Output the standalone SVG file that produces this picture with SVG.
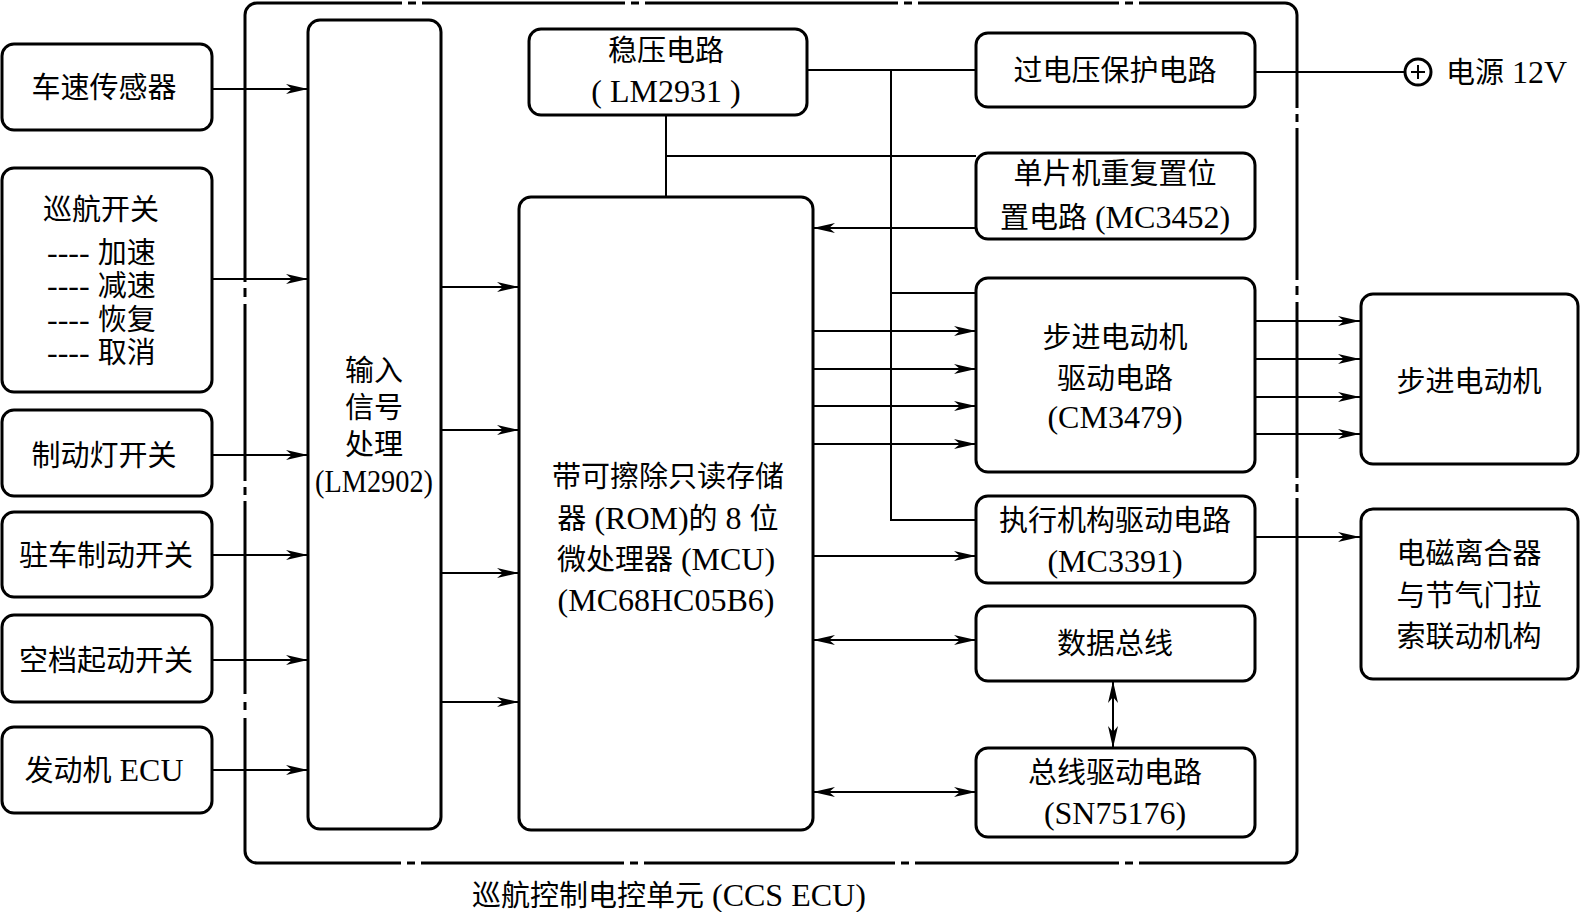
<svg xmlns="http://www.w3.org/2000/svg" width="1581" height="912" viewBox="0 0 1581 912">
<style>
.box{fill:#fff;stroke:#000;stroke-width:3}
.border{fill:none;stroke:#000;stroke-width:3}
.ln{fill:none;stroke:#000;stroke-width:2}
.gw{stroke:#fff;stroke-width:7}
.gd{stroke:#000;stroke-width:3}
text{font-family:"Liberation Serif","Noto Sans CJK SC",serif;font-size:29px;fill:#000;text-anchor:middle}
.st{text-anchor:start}
.lt{font-size:32px}
</style>
<defs>
<marker id="ah" markerWidth="24" markerHeight="12" refX="22" refY="6" orient="auto-start-reverse" markerUnits="userSpaceOnUse" viewBox="0 0 24 12">
<path d="M0,1 L22,6 L0,11 L6,6 Z" fill="#000"/>
</marker>
</defs>
<rect fill="#fff" x="0" y="0" width="1581" height="912"/>

<g id="ecu-border">
<rect class="border" x="245" y="3" width="1052" height="860" rx="12"/>
<g>
<line class="gw" x1="402" y1="3" x2="422" y2="3"/><line class="gd" x1="408" y1="3" x2="416" y2="3"/>
<line class="gw" x1="625" y1="3" x2="645" y2="3"/><line class="gd" x1="631" y1="3" x2="639" y2="3"/>
<line class="gw" x1="898" y1="3" x2="918" y2="3"/><line class="gd" x1="904" y1="3" x2="912" y2="3"/>
<line class="gw" x1="1119" y1="3" x2="1139" y2="3"/><line class="gd" x1="1125" y1="3" x2="1133" y2="3"/>
<line class="gw" x1="401" y1="863" x2="421" y2="863"/><line class="gd" x1="407" y1="863" x2="415" y2="863"/>
<line class="gw" x1="624" y1="863" x2="644" y2="863"/><line class="gd" x1="630" y1="863" x2="638" y2="863"/>
<line class="gw" x1="895" y1="863" x2="915" y2="863"/><line class="gd" x1="901" y1="863" x2="909" y2="863"/>
<line class="gw" x1="1119" y1="863" x2="1139" y2="863"/><line class="gd" x1="1125" y1="863" x2="1133" y2="863"/>
<line class="gw" x1="245" y1="282" x2="245" y2="304"/><line class="gd" x1="245" y1="288" x2="245" y2="297"/>
<line class="gw" x1="245" y1="481" x2="245" y2="501"/><line class="gd" x1="245" y1="487" x2="245" y2="495"/>
<line class="gw" x1="245" y1="694" x2="245" y2="718"/><line class="gd" x1="245" y1="702" x2="245" y2="710"/>
<line class="gw" x1="1297" y1="108" x2="1297" y2="128"/><line class="gd" x1="1297" y1="114" x2="1297" y2="122"/>
<line class="gw" x1="1297" y1="280" x2="1297" y2="302"/><line class="gd" x1="1297" y1="286" x2="1297" y2="295"/>
<line class="gw" x1="1297" y1="478" x2="1297" y2="498"/><line class="gd" x1="1297" y1="484" x2="1297" y2="492"/>
</g>
<text class="st" x="472" y="906">巡航控制电控单元<tspan class="lt"> (CCS ECU)</tspan></text>
</g>

<g id="connectors">
<line class="ln" x1="212" y1="89" x2="308" y2="89" marker-end="url(#ah)"/>
<line class="ln" x1="212" y1="279" x2="308" y2="279" marker-end="url(#ah)"/>
<line class="ln" x1="212" y1="455" x2="308" y2="455" marker-end="url(#ah)"/>
<line class="ln" x1="212" y1="555" x2="308" y2="555" marker-end="url(#ah)"/>
<line class="ln" x1="212" y1="660" x2="308" y2="660" marker-end="url(#ah)"/>
<line class="ln" x1="212" y1="770" x2="308" y2="770" marker-end="url(#ah)"/>

<line class="ln" x1="441" y1="287" x2="519" y2="287" marker-end="url(#ah)"/>
<line class="ln" x1="441" y1="430" x2="519" y2="430" marker-end="url(#ah)"/>
<line class="ln" x1="441" y1="573" x2="519" y2="573" marker-end="url(#ah)"/>
<line class="ln" x1="441" y1="702" x2="519" y2="702" marker-end="url(#ah)"/>

<polyline class="ln" points="666,115 666,197"/>
<line class="ln" x1="666" y1="156" x2="976" y2="156"/>
<line class="ln" x1="807" y1="70" x2="976" y2="70"/>
<polyline class="ln" points="891,70 891,520 976,520"/>
<line class="ln" x1="891" y1="293" x2="976" y2="293"/>
<line class="ln" x1="976" y1="228" x2="813" y2="228" marker-end="url(#ah)"/>

<line class="ln" x1="813" y1="331" x2="976" y2="331" marker-end="url(#ah)"/>
<line class="ln" x1="813" y1="369" x2="976" y2="369" marker-end="url(#ah)"/>
<line class="ln" x1="813" y1="406" x2="976" y2="406" marker-end="url(#ah)"/>
<line class="ln" x1="813" y1="444" x2="976" y2="444" marker-end="url(#ah)"/>
<line class="ln" x1="813" y1="556" x2="976" y2="556" marker-end="url(#ah)"/>
<line class="ln" x1="813" y1="640" x2="976" y2="640" marker-start="url(#ah)" marker-end="url(#ah)"/>
<line class="ln" x1="813" y1="792" x2="976" y2="792" marker-start="url(#ah)" marker-end="url(#ah)"/>
<line class="ln" x1="1113" y1="681" x2="1113" y2="748" marker-start="url(#ah)" marker-end="url(#ah)"/>

<line class="ln" x1="1255" y1="321" x2="1360" y2="321" marker-end="url(#ah)"/>
<line class="ln" x1="1255" y1="359" x2="1360" y2="359" marker-end="url(#ah)"/>
<line class="ln" x1="1255" y1="397" x2="1360" y2="397" marker-end="url(#ah)"/>
<line class="ln" x1="1255" y1="434" x2="1360" y2="434" marker-end="url(#ah)"/>
<line class="ln" x1="1255" y1="537" x2="1360" y2="537" marker-end="url(#ah)"/>

<line class="ln" x1="1255" y1="72" x2="1405" y2="72"/>
</g>

<g id="power">
<circle cx="1418" cy="72" r="13" fill="#fff" stroke="#000" stroke-width="3"/>
<line class="ln" x1="1411" y1="72" x2="1425" y2="72"/>
<line class="ln" x1="1418" y1="65" x2="1418" y2="79"/>
<text class="st" x="1446" y="83">电源<tspan class="lt"> 12V</tspan></text>
</g>

<g id="n-speed-sensor"><rect class="box" x="2" y="44" width="210" height="86" rx="12"/><text x="104" y="98">车速传感器</text></g>
<g id="n-cruise-switch"><rect class="box" x="2" y="168" width="210" height="224" rx="12"/>
<text x="101" y="220">巡航开关</text>
<text class="st" x="47" y="263"><tspan class="lt">---- </tspan>加速</text>
<text class="st" x="47" y="296"><tspan class="lt">---- </tspan>减速</text>
<text class="st" x="47" y="330"><tspan class="lt">---- </tspan>恢复</text>
<text class="st" x="47" y="363"><tspan class="lt">---- </tspan>取消</text></g>
<g id="n-brake-light"><rect class="box" x="2" y="410" width="210" height="86" rx="12"/><text x="104" y="466">制动灯开关</text></g>
<g id="n-park-brake"><rect class="box" x="2" y="512" width="210" height="85" rx="12"/><text x="106" y="566">驻车制动开关</text></g>
<g id="n-neutral"><rect class="box" x="2" y="615" width="210" height="87" rx="12"/><text x="106" y="671">空档起动开关</text></g>
<g id="n-engine-ecu"><rect class="box" x="2" y="727" width="210" height="86" rx="12"/><text x="104" y="781">发动机<tspan class="lt"> ECU</tspan></text></g>

<g id="n-input"><rect class="box" x="308" y="20" width="133" height="809" rx="12"/>
<text x="374" y="381">输入</text><text x="374" y="418">信号</text><text x="374" y="455">处理</text><text class="lt" x="374" y="492" textLength="118" lengthAdjust="spacingAndGlyphs">(LM2902)</text></g>

<g id="n-regulator"><rect class="box" x="529" y="29" width="278" height="86" rx="12"/>
<text x="666" y="61">稳压电路</text><text class="lt" x="666" y="102">( LM2931 )</text></g>

<g id="n-mcu"><rect class="box" x="519" y="197" width="294" height="633" rx="12"/>
<text x="668" y="487">带可擦除只读存储</text><text x="668" y="529">器<tspan class="lt"> (ROM)</tspan>的<tspan class="lt"> 8 </tspan>位</text><text x="666" y="570">微处理器<tspan class="lt"> (MCU)</tspan></text><text class="lt" x="666" y="611">(MC68HC05B6)</text></g>

<g id="n-overvoltage"><rect class="box" x="976" y="33" width="279" height="74" rx="12"/><text x="1115" y="81">过电压保护电路</text></g>
<g id="n-reset"><rect class="box" x="976" y="153" width="279" height="86" rx="12"/>
<text x="1115" y="184">单片机重复置位</text><text x="1115" y="228">置电路<tspan class="lt"> (MC3452)</tspan></text></g>
<g id="n-stepper-driver"><rect class="box" x="976" y="278" width="279" height="194" rx="12"/>
<text x="1115" y="348">步进电动机</text><text x="1115" y="389">驱动电路</text><text class="lt" x="1115" y="428">(CM3479)</text></g>
<g id="n-actuator-driver"><rect class="box" x="976" y="496" width="279" height="87" rx="12"/>
<text x="1115" y="531">执行机构驱动电路</text><text class="lt" x="1115" y="572">(MC3391)</text></g>
<g id="n-databus"><rect class="box" x="976" y="606" width="279" height="75" rx="12"/><text x="1115" y="654">数据总线</text></g>
<g id="n-bus-driver"><rect class="box" x="976" y="748" width="279" height="89" rx="12"/>
<text x="1115" y="783">总线驱动电路</text><text class="lt" x="1115" y="824">(SN75176)</text></g>

<g id="n-stepper-motor"><rect class="box" x="1361" y="294" width="217" height="170" rx="12"/><text x="1469" y="392">步进电动机</text></g>
<g id="n-clutch"><rect class="box" x="1361" y="509" width="217" height="170" rx="12"/>
<text x="1469" y="564">电磁离合器</text><text x="1469" y="606">与节气门拉</text><text x="1469" y="647">索联动机构</text></g>
</svg>
